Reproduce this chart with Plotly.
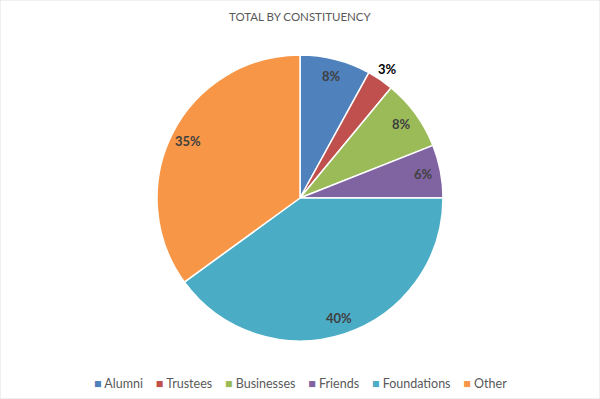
import math
import plotly.graph_objects as go

title = "TOTAL BY CONSTITUENCY"
categories = ["Alumni", "Trustees", "Businesses", "Friends", "Foundations", "Other"]
values = [8, 3, 8, 6, 40, 35]
colors = ["#4F81BD", "#C0504D", "#9BBB59", "#8064A2", "#4BACC6", "#F79646"]
label_outside = [False, True, False, False, False, False]

W, H = 600, 399
cx, cy, r = 300, 198, 143
FONT = "Lato, Open Sans, Arial, sans-serif"

fig = go.Figure(go.Pie(
    labels=categories,
    values=values,
    sort=False,
    direction="clockwise",
    rotation=0,
    marker=dict(colors=colors, line=dict(color="white", width=1.5)),
    textinfo="none",
    domain=dict(x=[(cx - r) / W, (cx + r) / W], y=[(H - cy - r) / H, (H - cy + r) / H]),
    hoverinfo="label+percent",
    showlegend=False,
))

# data labels positioned at slice mid-angles computed from the values
annotations = []
total = sum(values)
cum = 0
for v, out in zip(values, label_outside):
    mid = (cum + v / 2) / total * 2 * math.pi
    cum += v
    d = r * (1.09 if out else 0.88)
    px = cx + d * math.sin(mid)
    py = cy - d * math.cos(mid)
    annotations.append(dict(
        x=px / W, y=1 - py / H, xref="paper", yref="paper",
        text=f"<b>{round(v / total * 100)}%</b>", showarrow=False,
        xanchor="center", yanchor="middle",
        font=dict(family=FONT, size=13, color="#000000" if out else "#404040"),
    ))

# legend as a single row of text
legend_txt = "    ".join(
    f"<span style='color:{c}'>■</span> {cat}" for c, cat in zip(colors, categories)
)
annotations.append(dict(
    x=0.5, y=1 - 383 / H, xref="paper", yref="paper", text=legend_txt,
    showarrow=False, xanchor="center", yanchor="middle",
    font=dict(family=FONT, size=12.5, color="#595959"),
))
annotations.append(dict(
    x=0.5, y=1 - 16 / H, xref="paper", yref="paper", text=title,
    showarrow=False, xanchor="center", yanchor="middle",
    font=dict(family=FONT, size=11.5, color="#595959"),
))

fig.update_layout(
    width=W, height=H,
    margin=dict(l=0, r=0, t=0, b=0, autoexpand=False),
    paper_bgcolor="white",
    showlegend=False,
    annotations=annotations,
    shapes=[dict(type="rect", xref="paper", yref="paper", x0=0, x1=1, y0=0, y1=1,
                 line=dict(color="#E0E0E0", width=1))],
)

fig.write_html("out.html", config={"displayModeBar": False},
               post_script="document.body.style.margin='0';")
